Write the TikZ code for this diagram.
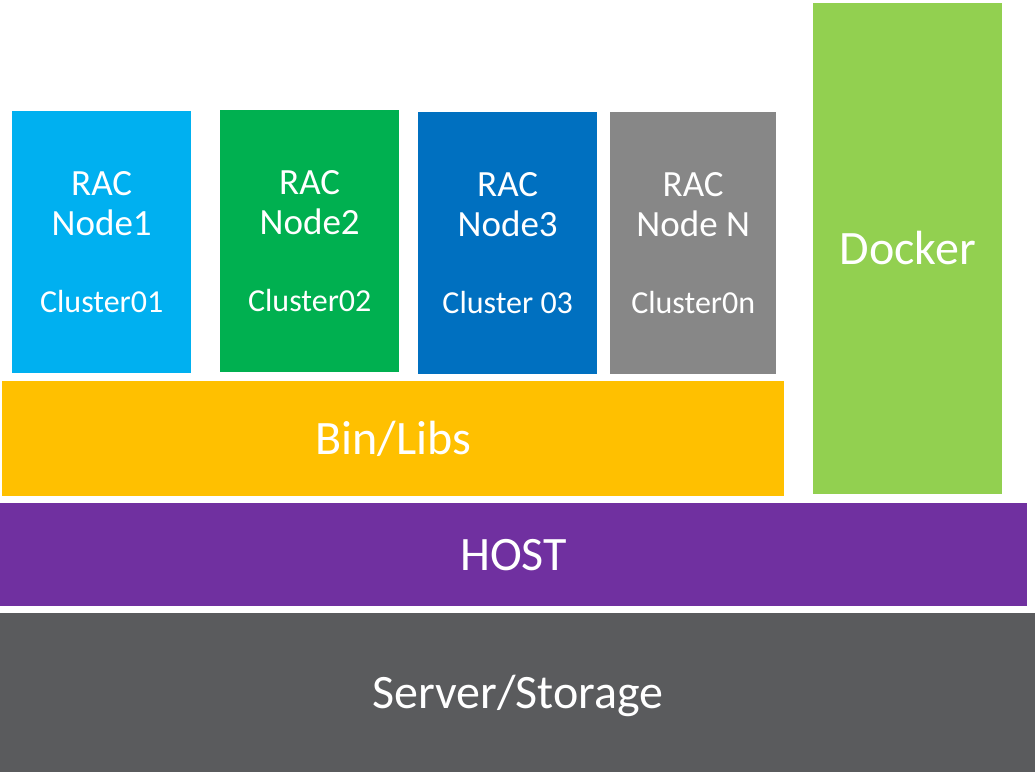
\documentclass[tikz,border=0pt]{standalone}
\usepackage{fontspec}
\setmainfont{Carlito}
\definecolor{racCyan}{HTML}{00B0F0}
\definecolor{racGreen}{HTML}{00B050}
\definecolor{racBlue}{HTML}{0070C0}
\definecolor{racGray}{HTML}{878787}
\definecolor{dockGreen}{HTML}{92D050}
\definecolor{libOrange}{HTML}{FFC000}
\definecolor{hostPurple}{HTML}{7030A0}
\definecolor{srvGray}{HTML}{5A5B5D}
\begin{document}
\begin{tikzpicture}[x=1pt,y=-1pt,
  blk/.style={rectangle,inner sep=0pt,anchor=north west,text=white,align=center},
  rac/.style={blk,minimum width=179pt,minimum height=262pt,font=\fontsize{37}{40}\selectfont},
  big/.style={blk,font=\fontsize{48}{52}\selectfont,text height=31pt,text depth=0pt}]
\useasboundingbox (0,0) rectangle (1035,772);
%RAC nodes
\node[rac,fill=racCyan](racNode1) at (12,111){RAC\\Node1\\[37pt]{\fontsize{32}{40}\selectfont Cluster01}};
\node[rac,fill=racGreen](racNode2) at (220,110){RAC\\Node2\\[37pt]{\fontsize{32}{40}\selectfont Cluster02}};
\node[rac,fill=racBlue](racNode3) at (418,112){RAC\\Node3\\[37pt]{\fontsize{32}{40}\selectfont Cluster 03}};
\node[rac,fill=racGray,minimum width=166pt](racNodeN) at (610,112){RAC\\Node N\\[37pt]{\fontsize{32}{40}\selectfont Cluster0n}};
%layers
\node[big,fill=dockGreen,minimum width=189pt,minimum height=491pt](docker) at (813,3){Docker};
\node[big,fill=libOrange,minimum width=782pt,minimum height=115pt](binLibs) at (2,381){Bin/Libs};
\node[big,fill=hostPurple,minimum width=1027pt,minimum height=103pt](host) at (0,503){HOST};
\node[big,fill=srvGray,minimum width=1035pt,minimum height=159pt](server) at (0,613){Server/Storage};
\end{tikzpicture}
\end{document}
